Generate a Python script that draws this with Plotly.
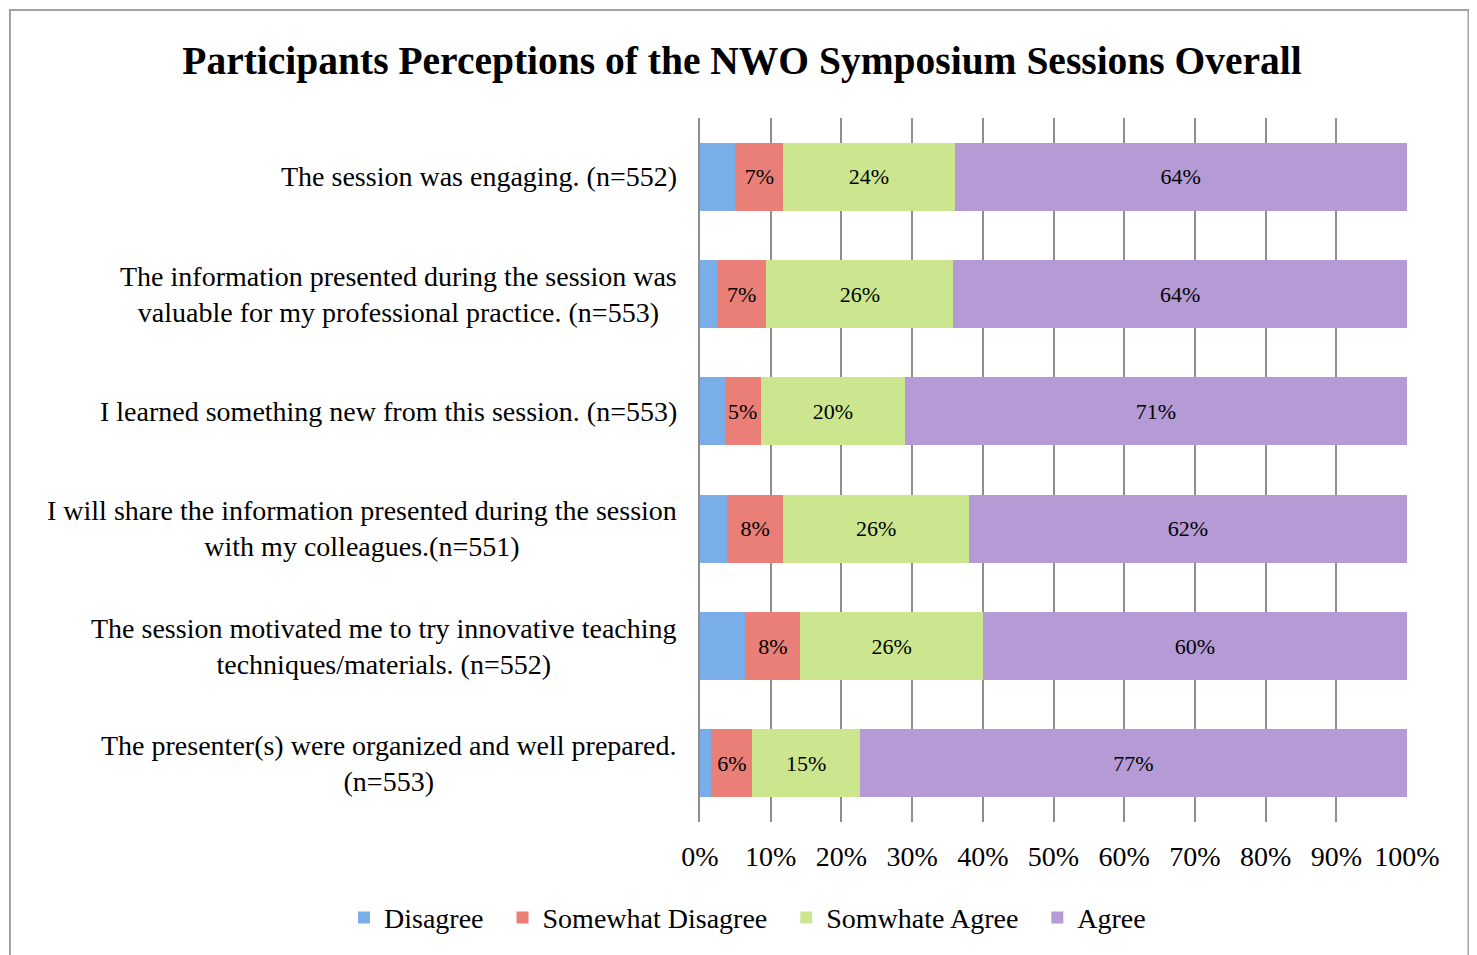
import plotly.graph_objects as go

categories = [
    "The session was engaging. (n=552)",
    "The information presented during the session was<br>valuable for my professional practice. (n=553)",
    "I learned something new from this session. (n=553)",
    "I will share the information presented during the session<br>with my colleagues.(n=551)",
    "The session motivated me to try innovative teaching<br>techniques/materials. (n=552)",
    "The presenter(s) were organized and well prepared.<br>(n=553)",
]

series_names = ["Disagree", "Somewhat Disagree", "Somwhate Agree", "Agree"]
disagree = [5.0, 2.4, 3.5, 3.8, 6.4, 1.6]
somewhat_disagree = [6.8, 7.0, 5.1, 8.0, 7.8, 5.8]
somewhat_agree = [24.2, 26.4, 20.4, 26.2, 25.8, 15.2]
agree = [64.0, 64.2, 71.0, 62.0, 60.0, 77.4]

tick_vals = [0, 10, 20, 30, 40, 50, 60, 70, 80, 90, 100]
tick_text = ["0%", "10%", "20%", "30%", "40%", "50%", "60%", "70%", "80%", "90%", "100%"]

colors = ["#7aaee8", "#ea7f77", "#cbe68e", "#b49bd6"]
show_labels = [False, True, True, True]

FONT = "Liberation Serif"
PAD = "\u00a0\u00a0"  # extra spacing between legend entries

fig = go.Figure()
for name, vals, col, lab in zip(series_names,
                                [disagree, somewhat_disagree, somewhat_agree, agree],
                                colors, show_labels):
    fig.add_trace(go.Bar(
        y=categories, x=vals, name=name + PAD, orientation="h",
        marker=dict(color=col, line=dict(width=0)),
        texttemplate="%{x:.0f}%" if lab else "",
        textposition="inside" if lab else "none",
        insidetextanchor="middle",
        textangle=0,
        textfont=dict(family=FONT, size=22, color="black"),
        hovertemplate=name + ": %{x:.1f}%<extra></extra>",
    ))

# category labels as centered multi-line text to the left of the axis
for c in categories:
    fig.add_annotation(
        x=-0.0297, xref="paper", y=c, yref="y",
        text=c, showarrow=False, xanchor="right", yanchor="middle",
        align="center", font=dict(family=FONT, size=28, color="black"),
    )

fig.update_layout(
    width=1469, height=947,
    barmode="stack", bargap=0.42,
    paper_bgcolor="white", plot_bgcolor="white",
    margin=dict(l=692, r=70, t=110, b=133, autoexpand=False),
    title=dict(
        text="<b>Participants Perceptions of the NWO Symposium Sessions Overall</b>",
        x=0.4997, xanchor="center", y=0.945, yanchor="middle",
        font=dict(family=FONT, size=39.5, color="black"),
    ),
    legend=dict(
        orientation="h", x=-0.5035, xanchor="left",
        y=-0.136, yanchor="middle",
        font=dict(family=FONT, size=28, color="black"),
        traceorder="normal", itemclick=False,
    ),
    xaxis=dict(
        range=[0, 100], tickvals=tick_vals, ticktext=tick_text,
        showgrid=True, gridcolor="#8e8e8e", gridwidth=2,
        zeroline=False, showline=False,
        ticks="outside", ticklen=0, ticklabelstandoff=9,
        tickfont=dict(family=FONT, size=28, color="black"),
    ),
    yaxis=dict(
        autorange="reversed", showticklabels=False,
        showgrid=False, zeroline=False,
        showline=True, linecolor="#8e8e8e", linewidth=2,
    ),
    shapes=[dict(
        type="rect", xref="paper", yref="paper",
        x0=-0.976, x1=1.087, y0=-0.3, y1=1.1534,
        line=dict(color="#a0a0a0", width=2), fillcolor="rgba(0,0,0,0)",
        layer="below",
    )],
)

fig.write_html("out.html")
